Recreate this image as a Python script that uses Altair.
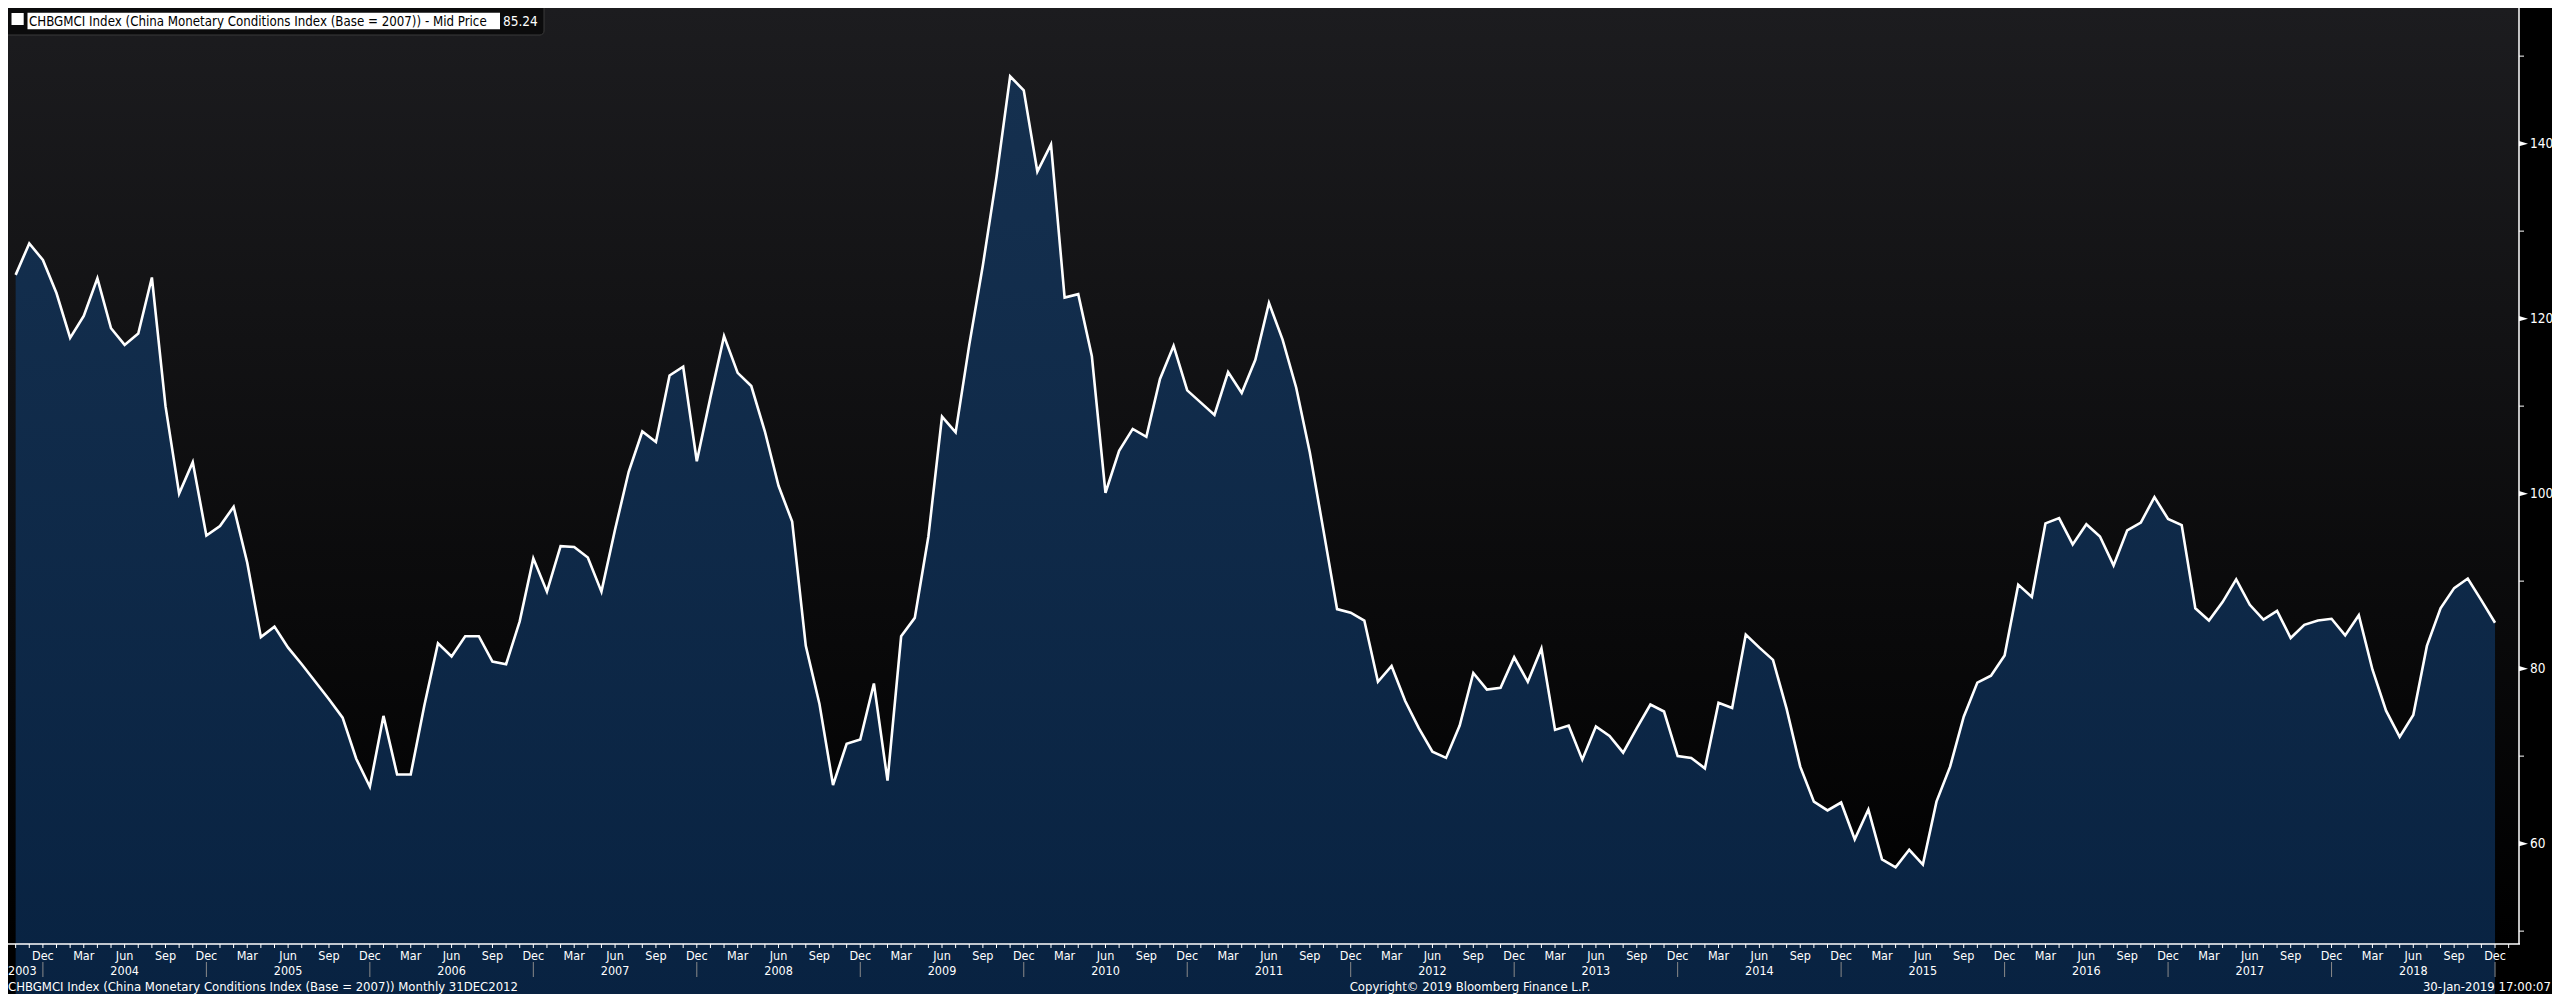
import altair as alt
import pandas as pd

# ---------------- data ----------------
START_YEAR, START_MONTH = 2003, 10          # first monthly observation (Oct 2003)
CMCI = [
    125.0, 128.6, 126.7, 122.9, 117.8, 120.3, 124.6, 118.9, 117.0, 118.3,
    124.7, 110.0, 100.0, 103.6, 95.2, 96.3, 98.5, 92.1, 83.6, 84.8,
    82.4, 80.5, 78.5, 76.5, 74.4, 69.7, 66.5, 74.6, 67.9, 67.9,
    75.8, 82.9, 81.4, 83.7, 83.7, 80.8, 80.5, 85.4, 92.6, 88.8,
    94.0, 93.9, 92.7, 88.8, 95.9, 102.5, 107.1, 105.9, 113.5, 114.5,
    103.7, 111.0, 118.0, 113.8, 112.3, 107.1, 100.9, 96.8, 82.6, 76.0,
    66.7, 71.4, 71.9, 78.3, 67.2, 83.7, 85.8, 95.1, 108.8, 107.0,
    117.0, 126.1, 136.2, 147.7, 146.1, 136.8, 139.9, 122.4, 122.8, 115.7,
    100.1, 104.9, 107.4, 106.5, 113.1, 116.9, 111.8, 110.4, 109.0, 113.9,
    111.5, 115.3, 121.8, 117.6, 112.1, 104.7, 95.8, 86.8, 86.4, 85.5,
    78.5, 80.3, 76.3, 73.2, 70.5, 69.8, 73.5, 79.5, 77.6, 77.8,
    81.3, 78.5, 82.3, 73.0, 73.5, 69.6, 73.4, 72.3, 70.4, 73.2,
    75.9, 75.1, 70.0, 69.8, 68.6, 76.1, 75.5, 83.9, 82.4, 81.0,
    75.4, 68.8, 64.8, 63.8, 64.7, 60.5, 63.9, 58.2, 57.3, 59.3,
    57.6, 64.8, 68.8, 74.5, 78.4, 79.2, 81.5, 89.6, 88.2, 96.6,
    97.2, 94.2, 96.5, 95.1, 91.8, 95.8, 96.7, 99.6, 97.1, 96.4,
    86.9, 85.5, 87.6, 90.2, 87.3, 85.6, 86.6, 83.5, 85.0, 85.5,
    85.7, 83.8, 86.1, 79.9, 75.2, 72.2, 74.7, 82.6, 86.9, 89.2,
    90.3, 87.8, 85.24,
]
Y_MAJOR = [60, 80, 100, 120, 140]
Y_MINOR = [50, 70, 90, 110, 130, 150]
MONTH_NAMES = ["Jan", "Feb", "Mar", "Apr", "May", "Jun",
               "Jul", "Aug", "Sep", "Oct", "Nov", "Dec"]
LABELED_MONTHS = ["Mar", "Jun", "Sep", "Dec"]
LEGEND_TEXT = "CHBGMCI Index (China Monetary Conditions Index (Base = 2007)) - Mid Price"
LAST_VALUE = "85.24"
FOOTER_LEFT = "CHBGMCI Index (China Monetary Conditions Index (Base = 2007))  Monthly 31DEC2012"
FOOTER_MID = "Copyright\u00a9 2019 Bloomberg Finance L.P."
FOOTER_RIGHT = "30-Jan-2019 17:00:07"

# ---------------- layout ----------------
W, H = 2511, 936
TOTAL_W, TOTAL_H = 2544, 986
X_DOMAIN = [-0.562, 183.76]
Y_DOMAIN = [48.53, 155.5]
FONT = "DejaVu Sans Condensed, Liberation Sans, Arial, sans-serif"

xs = alt.Scale(domain=X_DOMAIN, nice=False, zero=False)
ys = alt.Scale(domain=Y_DOMAIN, nice=False, zero=False)
X = alt.X("i:Q", scale=xs, axis=None)
Y = alt.Y("v:Q", scale=ys, axis=None)

n = len(CMCI)
df = pd.DataFrame({"i": list(range(n)), "v": CMCI})
one = pd.DataFrame({"k": [0]})

# month ticks / labels
n_ticks = int(X_DOMAIN[1]) + 1
ticks = []
for i in range(0, n_ticks):
    m = (START_MONTH - 1 + i) % 12
    yr = START_YEAR + (START_MONTH - 1 + i) // 12
    name = MONTH_NAMES[m]
    ticks.append({"i": i, "name": name, "year": yr,
                  "lab": name if name in LABELED_MONTHS else ""})
ticks_df = pd.DataFrame(ticks)
mlab_df = ticks_df[ticks_df["lab"] != ""]
dec_df = ticks_df[ticks_df["name"] == "Dec"]
dec_idx = dict(zip(dec_df["year"], dec_df["i"]))
years = []
for yr in sorted(dec_idx):
    if yr - 1 in dec_idx:
        years.append({"i": (dec_idx[yr - 1] + dec_idx[yr]) / 2, "lab": str(yr)})
year_df = pd.DataFrame(years)
first_year_df = pd.DataFrame({"i": [X_DOMAIN[0]], "lab": [str(START_YEAR)]})

ymaj_df = pd.DataFrame({"v": Y_MAJOR, "lab": [str(v) for v in Y_MAJOR]})
ymin_df = pd.DataFrame({"v": Y_MINOR})

# ---------------- layers ----------------
bg_grad = alt.Gradient(gradient="linear", x1=0, x2=0, y1=0, y2=1,
                       stops=[alt.GradientStop(color="#1c1c1f", offset=0),
                              alt.GradientStop(color="#000000", offset=1)])
area_grad = alt.Gradient(gradient="linear", x1=0, x2=0, y1=0, y2=1,
                         stops=[alt.GradientStop(color="#15304f", offset=0),
                                alt.GradientStop(color="#031d3c", offset=1)])

bg = alt.Chart(one).mark_rect(fill=bg_grad).encode(
    x=alt.value(0), x2=alt.value(W), y=alt.value(0), y2=alt.value(H))

area = alt.Chart(df).mark_area(fill=area_grad, opacity=1).encode(
    x=X, y=Y, y2=alt.value(H))
line = alt.Chart(df).mark_line(color="white", strokeWidth=2.6, strokeJoin="miter").encode(x=X, y=Y)

x_axis_line = alt.Chart(one).mark_rule(color="white", strokeWidth=1.5).encode(
    x=alt.value(0), x2=alt.value(W + 1), y=alt.value(H), y2=alt.value(H))
y_axis_line = alt.Chart(one).mark_rule(color="white", strokeWidth=1.5).encode(
    x=alt.value(W), x2=alt.value(W), y=alt.value(0), y2=alt.value(H))

month_ticks = alt.Chart(ticks_df).mark_rule(color="white", strokeWidth=1).encode(
    x=X, y=alt.value(H), y2=alt.value(H + 4))
month_labels = alt.Chart(mlab_df).mark_text(
    color="white", font=FONT, fontSize=12.5, align="center", baseline="middle").encode(
    x=X, y=alt.value(H + 12), text="lab:N")
year_seps = alt.Chart(dec_df).mark_rule(color="#8a8a8a", strokeWidth=1).encode(
    x=X, y=alt.value(H + 18), y2=alt.value(H + 33))
year_labels = alt.Chart(year_df).mark_text(
    color="white", font=FONT, fontSize=12.5, align="center", baseline="middle").encode(
    x=X, y=alt.value(H + 27), text="lab:N")
first_year = alt.Chart(first_year_df).mark_text(
    color="white", font=FONT, fontSize=12.5, align="left", baseline="middle").encode(
    x=X, y=alt.value(H + 27), text="lab:N")

y_minor = alt.Chart(ymin_df).mark_rule(color="white", strokeWidth=1).encode(
    y=Y, x=alt.value(W), x2=alt.value(W + 5))
y_major = alt.Chart(ymaj_df).mark_point(
    shape="M-1,-0.6L1,0L-1,0.6Z", filled=True, color="white", opacity=1, size=81).encode(
    y=Y, x=alt.value(W + 4.5))
y_labels = alt.Chart(ymaj_df).mark_text(
    color="white", font=FONT, fontSize=13.5, align="left", baseline="middle").encode(
    y=Y, x=alt.value(W + 11), text="lab:N")

footer_l = alt.Chart(one).mark_text(color="white", font=FONT, fontSize=13, align="left",
                                    baseline="middle").encode(
    x=alt.value(0), y=alt.value(H + 43), text=alt.value(FOOTER_LEFT))
footer_m = alt.Chart(one).mark_text(color="white", font=FONT, fontSize=13, align="center",
                                    baseline="middle").encode(
    x=alt.value(1462), y=alt.value(H + 43), text=alt.value(FOOTER_MID))
footer_r = alt.Chart(one).mark_text(color="white", font=FONT, fontSize=13, align="right",
                                    baseline="middle").encode(
    x=alt.value(TOTAL_W - 1), y=alt.value(H + 43), text=alt.value(FOOTER_RIGHT))

legend_box = alt.Chart(one).mark_rect(fill="#0b0b0c", stroke="#3a3a3a", strokeWidth=1,
                                      cornerRadius=4).encode(
    x=alt.value(-4), x2=alt.value(536), y=alt.value(-4), y2=alt.value(27))
legend_sq = alt.Chart(one).mark_rect(fill="white").encode(
    x=alt.value(3.5), x2=alt.value(15.7), y=alt.value(5), y2=alt.value(17))
legend_hl = alt.Chart(one).mark_rect(fill="white").encode(
    x=alt.value(19.5), x2=alt.value(492), y=alt.value(4.7), y2=alt.value(21.3))
legend_txt = alt.Chart(one).mark_text(color="black", font=FONT, fontSize=13.2, align="left",
                                      baseline="middle").encode(
    x=alt.value(21), y=alt.value(13.5), text=alt.value(LEGEND_TEXT))
legend_val = alt.Chart(one).mark_text(color="white", font=FONT, fontSize=13.5, align="left",
                                      baseline="middle").encode(
    x=alt.value(495), y=alt.value(13.5), text=alt.value(LAST_VALUE))

chart = alt.layer(
    bg, area, line, x_axis_line, y_axis_line, month_ticks, month_labels, year_seps,
    year_labels, first_year, y_minor, y_major, y_labels, footer_l, footer_m, footer_r,
    legend_box, legend_sq, legend_hl, legend_txt, legend_val,
).properties(
    width=W, height=H, background="#000000",
    padding={"left": 0, "top": 0, "right": TOTAL_W - W, "bottom": TOTAL_H - H},
    autosize=alt.AutoSizeParams(type="none"),
).configure_view(stroke=None)

chart.save("out.html", embed_options={"renderer": "svg", "actions": False})
